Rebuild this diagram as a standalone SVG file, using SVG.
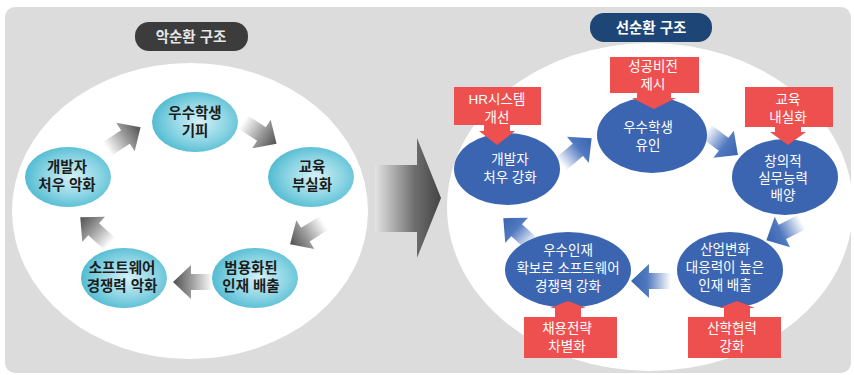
<svg xmlns="http://www.w3.org/2000/svg" width="854" height="375" viewBox="0 0 854 375">
<defs>
<radialGradient id="cyan" cx="55%" cy="50%" r="58%">
<stop offset="0" stop-color="#d4f1f7"/>
<stop offset="0.55" stop-color="#8dd5e4"/>
<stop offset="1" stop-color="#4bb8cf"/>
</radialGradient>
<linearGradient id="grayArr" x1="0" y1="0" x2="1" y2="0">
<stop offset="0" stop-color="#ffffff"/>
<stop offset="0.55" stop-color="#9a9a9a"/>
<stop offset="1" stop-color="#505050"/>
</linearGradient>
<linearGradient id="blueArr" x1="0" y1="0" x2="1" y2="0">
<stop offset="0" stop-color="#ffffff"/>
<stop offset="0.6" stop-color="#4f78bf"/>
<stop offset="1" stop-color="#3a64b0"/>
</linearGradient>
<linearGradient id="bigArr" x1="0" y1="0" x2="1" y2="0">
<stop offset="0" stop-color="#e4e4e4"/>
<stop offset="0.6" stop-color="#6e6e6e"/>
<stop offset="1" stop-color="#444444"/>
</linearGradient>
<path id="arr" d="M0,-8 H22 V-17 L40,0 L22,17 V8 H0 Z"/>
<style>
.lt{font-family:"Liberation Sans","Noto Sans CJK KR",sans-serif;font-size:14.5px;font-weight:bold;fill:#1c1c1c;text-anchor:middle}
.rt{font-family:"Liberation Sans","Noto Sans CJK KR",sans-serif;font-size:13.5px;fill:#ffffff;text-anchor:middle}
.ct{font-family:"Liberation Sans","Noto Sans CJK KR",sans-serif;font-size:13.5px;fill:#ffffff;text-anchor:middle}
.cyan{fill:url(#cyan)}
.blue{fill:#3b65b1}
.red{fill:#ee5050}
</style>
</defs>
<rect x="0" y="0" width="854" height="375" fill="#ffffff"/>
<rect x="5" y="7" width="846" height="366" rx="10" fill="#dcdcdc"/>
<ellipse cx="190" cy="211" rx="178" ry="148" fill="#ffffff"/>
<ellipse cx="650" cy="207" rx="203" ry="164" fill="#ffffff"/>

<g id="label-vicious">
<rect x="135" y="22" width="113" height="29" rx="14" fill="#3c3c3c"/>
<text x="191" y="42" class="lt" style="fill:#e6e6e6">악순환 구조</text>
</g>
<g id="label-virtuous">
<rect x="590" y="13" width="122" height="29" rx="14" fill="#1d4575"/>
<text x="651" y="33" class="lt" style="fill:#ffffff">선순환 구조</text>
</g>

<g id="big-arrow">
<polygon points="375,165 417,165 417,138 441,198 417,258 417,232 375,232" fill="url(#bigArr)"/>
</g>

<g id="connectors">
<use href="#arr" fill="url(#grayArr)" transform="translate(107,149) rotate(-33)"/>
<use href="#arr" fill="url(#grayArr)" transform="translate(243,122) rotate(33)"/>
<use href="#arr" fill="url(#grayArr)" transform="translate(324,223) rotate(148)"/>
<use href="#arr" fill="url(#grayArr)" transform="translate(213,282) rotate(180)"/>
<use href="#arr" fill="url(#grayArr)" transform="translate(110,244) rotate(-138)"/>
<use href="#arr" fill="url(#blueArr)" transform="translate(561,164) rotate(-40)"/>
<use href="#arr" fill="url(#blueArr)" transform="translate(706,131) rotate(37)"/>
<use href="#arr" fill="url(#blueArr)" transform="translate(802,222) rotate(153)"/>
<use href="#arr" fill="url(#blueArr)" transform="translate(671,281) rotate(180)"/>
<use href="#arr" fill="url(#blueArr)" transform="translate(533,245) rotate(-138)"/>
</g>

<g id="l-student">
<ellipse cx="195" cy="122" rx="43" ry="30" class="cyan"/>
<text class="lt"><tspan x="195" y="118">우수학생</tspan><tspan x="195" y="136">기피</tspan></text>
</g>
<g id="l-edu">
<ellipse cx="311" cy="177" rx="43" ry="30" class="cyan"/>
<text class="lt"><tspan x="312" y="172">교육</tspan><tspan x="312" y="190">부실화</tspan></text>
</g>
<g id="l-talent">
<ellipse cx="255" cy="278" rx="43" ry="30" class="cyan"/>
<text class="lt"><tspan x="251" y="273">범용화된</tspan><tspan x="251" y="291">인재 배출</tspan></text>
</g>
<g id="l-sw">
<ellipse cx="124" cy="278" rx="43" ry="30" class="cyan"/>
<text class="lt"><tspan x="122" y="273">소프트웨어</tspan><tspan x="122" y="291">경쟁력 악화</tspan></text>
</g>
<g id="l-dev">
<ellipse cx="68" cy="177" rx="43" ry="30" class="cyan"/>
<text class="lt"><tspan x="67" y="172">개발자</tspan><tspan x="67" y="190">처우 악화</tspan></text>
</g>

<g id="r-dev">
<ellipse cx="507" cy="169" rx="53" ry="36" class="blue"/>
<text class="rt"><tspan x="510" y="164">개발자</tspan><tspan x="510" y="182">처우 강화</tspan></text>
</g>
<g id="r-student">
<ellipse cx="652" cy="135" rx="55" ry="38" class="blue"/>
<text class="rt"><tspan x="648" y="132">우수학생</tspan><tspan x="648" y="150">유인</tspan></text>
</g>
<g id="r-creative">
<ellipse cx="785" cy="177" rx="53" ry="38" class="blue"/>
<text class="rt"><tspan x="783" y="166">창의적</tspan><tspan x="783" y="183">실무능력</tspan><tspan x="783" y="200">배양</tspan></text>
</g>
<g id="r-talent">
<ellipse cx="730" cy="270" rx="53" ry="38" class="blue"/>
<text class="rt"><tspan x="725" y="254">산업변화</tspan><tspan x="725" y="272">대응력이 높은</tspan><tspan x="725" y="290">인재 배출</tspan></text>
</g>
<g id="r-sw">
<ellipse cx="568" cy="270" rx="63" ry="38" class="blue"/>
<text class="rt"><tspan x="568" y="255">우수인재</tspan><tspan x="568" y="273">확보로 소프트웨어</tspan><tspan x="568" y="291">경쟁력 강화</tspan></text>
</g>

<g id="c-hr">
<rect x="454" y="87" width="87" height="38" class="red"/>
<polygon points="484,124 510,124 510,131 515,131 497,145 479,131 484,131" class="red"/>
<text class="ct"><tspan x="497" y="104">HR시스템</tspan><tspan x="497" y="122">개선</tspan></text>
</g>
<g id="c-vision">
<rect x="610" y="57" width="89" height="36" class="red"/>
<polygon points="637,92 671,92 671,98 676,98 654,109 632,98 637,98" class="red"/>
<text class="ct"><tspan x="653" y="71">성공비전</tspan><tspan x="653" y="89">제시</tspan></text>
</g>
<g id="c-edu">
<rect x="745" y="87" width="88" height="40" class="red"/>
<polygon points="775,126 801,126 801,132 806,132 788,145 770,132 775,132" class="red"/>
<text class="ct"><tspan x="788" y="104">교육</tspan><tspan x="788" y="122">내실화</tspan></text>
</g>
<g id="c-hire">
<rect x="524" y="317" width="93" height="41" class="red"/>
<polygon points="555,318 581,318 581,308 586,308 568,301 550,308 555,308" class="red"/>
<text class="ct"><tspan x="567" y="333">채용전략</tspan><tspan x="567" y="351">차별화</tspan></text>
</g>
<g id="c-industry">
<rect x="688" y="317" width="93" height="41" class="red"/>
<polygon points="724,318 750,318 750,308 755,308 737,301 719,308 724,308" class="red"/>
<text class="ct"><tspan x="732" y="333">산학협력</tspan><tspan x="732" y="351">강화</tspan></text>
</g>
</svg>
